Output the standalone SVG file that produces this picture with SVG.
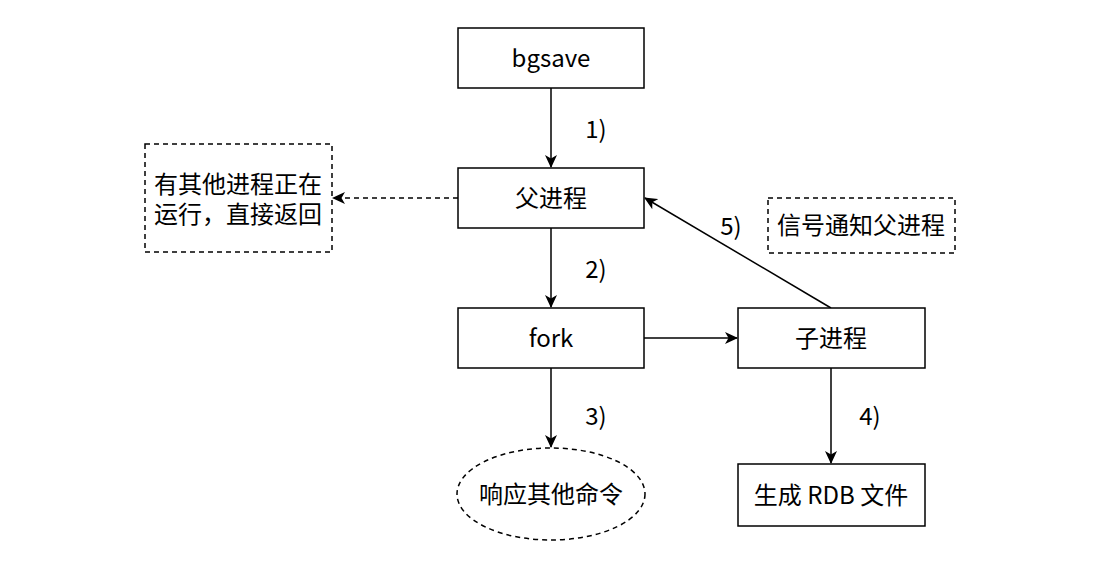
<svg xmlns="http://www.w3.org/2000/svg" width="1102" height="566" viewBox="0 0 1102 566">
<style>
.box{fill:#fff;stroke:#000;stroke-width:1.5}
.dbox{fill:#fff;stroke:#000;stroke-width:1.5;stroke-dasharray:5 4}
.t{font-family:"Noto Sans CJK SC","Noto Sans",sans-serif;font-size:24px;fill:#000;text-anchor:middle;dominant-baseline:central}
.e{fill:none;stroke:#000;stroke-width:1.5}
.ed{fill:none;stroke:#000;stroke-width:1.5;stroke-dasharray:5 4}
</style>
<defs>
<marker id="a" viewBox="0 0 13 12" refX="12" refY="6" markerWidth="13" markerHeight="12" markerUnits="userSpaceOnUse" orient="auto">
<path d="M0,0 L13,6 L0,12 L3.5,6 Z" fill="#000"/>
</marker>
</defs>
<rect width="1102" height="566" fill="#fff"/>
<g id="edges">
<line class="e" x1="551" y1="88" x2="551" y2="167" marker-end="url(#a)"/>
<line class="ed" x1="458" y1="198" x2="333" y2="198" marker-end="url(#a)"/>
<line class="e" x1="551" y1="228" x2="551" y2="307" marker-end="url(#a)"/>
<line class="e" x1="644" y1="338" x2="737" y2="338" marker-end="url(#a)"/>
<line class="e" x1="551" y1="368" x2="551" y2="447" marker-end="url(#a)"/>
<line class="e" x1="831" y1="368" x2="831" y2="463" marker-end="url(#a)"/>
<line class="e" x1="831" y1="308" x2="645" y2="198" marker-end="url(#a)"/>
<text class="t" x="596" y="127">1)</text>
<text class="t" x="596" y="267">2)</text>
<text class="t" x="596" y="414">3)</text>
<text class="t" x="870" y="414">4)</text>
<text class="t" x="731" y="224">5)</text>
</g>
<g id="bgsave"><rect class="box" x="458" y="28" width="186" height="60"/><text class="t" x="551" y="56">bgsave</text></g>
<g id="parent"><rect class="box" x="458" y="168" width="186" height="60"/><text class="t" x="551" y="196">父进程</text></g>
<g id="fork"><rect class="box" x="458" y="308" width="186" height="60"/><text class="t" x="551" y="336">fork</text></g>
<g id="child"><rect class="box" x="738" y="308" width="187" height="60"/><text class="t" x="831" y="336">子进程</text></g>
<g id="rdb"><rect class="box" x="738" y="464" width="187" height="62"/><text class="t" x="831" y="493">生成 RDB 文件</text></g>
<g id="respond"><ellipse class="dbox" cx="551" cy="494" rx="94" ry="46"/><text class="t" x="551" y="492">响应其他命令</text></g>
<g id="running"><rect class="dbox" x="145" y="144" width="187" height="108"/><text class="t" x="238" y="182"><tspan x="238" y="182">有其他进程正在</tspan><tspan x="238" y="212">运行，直接返回</tspan></text></g>
<g id="signal"><rect class="dbox" x="768" y="198" width="187" height="55"/><text class="t" x="861" y="223">信号通知父进程</text></g>
</svg>
